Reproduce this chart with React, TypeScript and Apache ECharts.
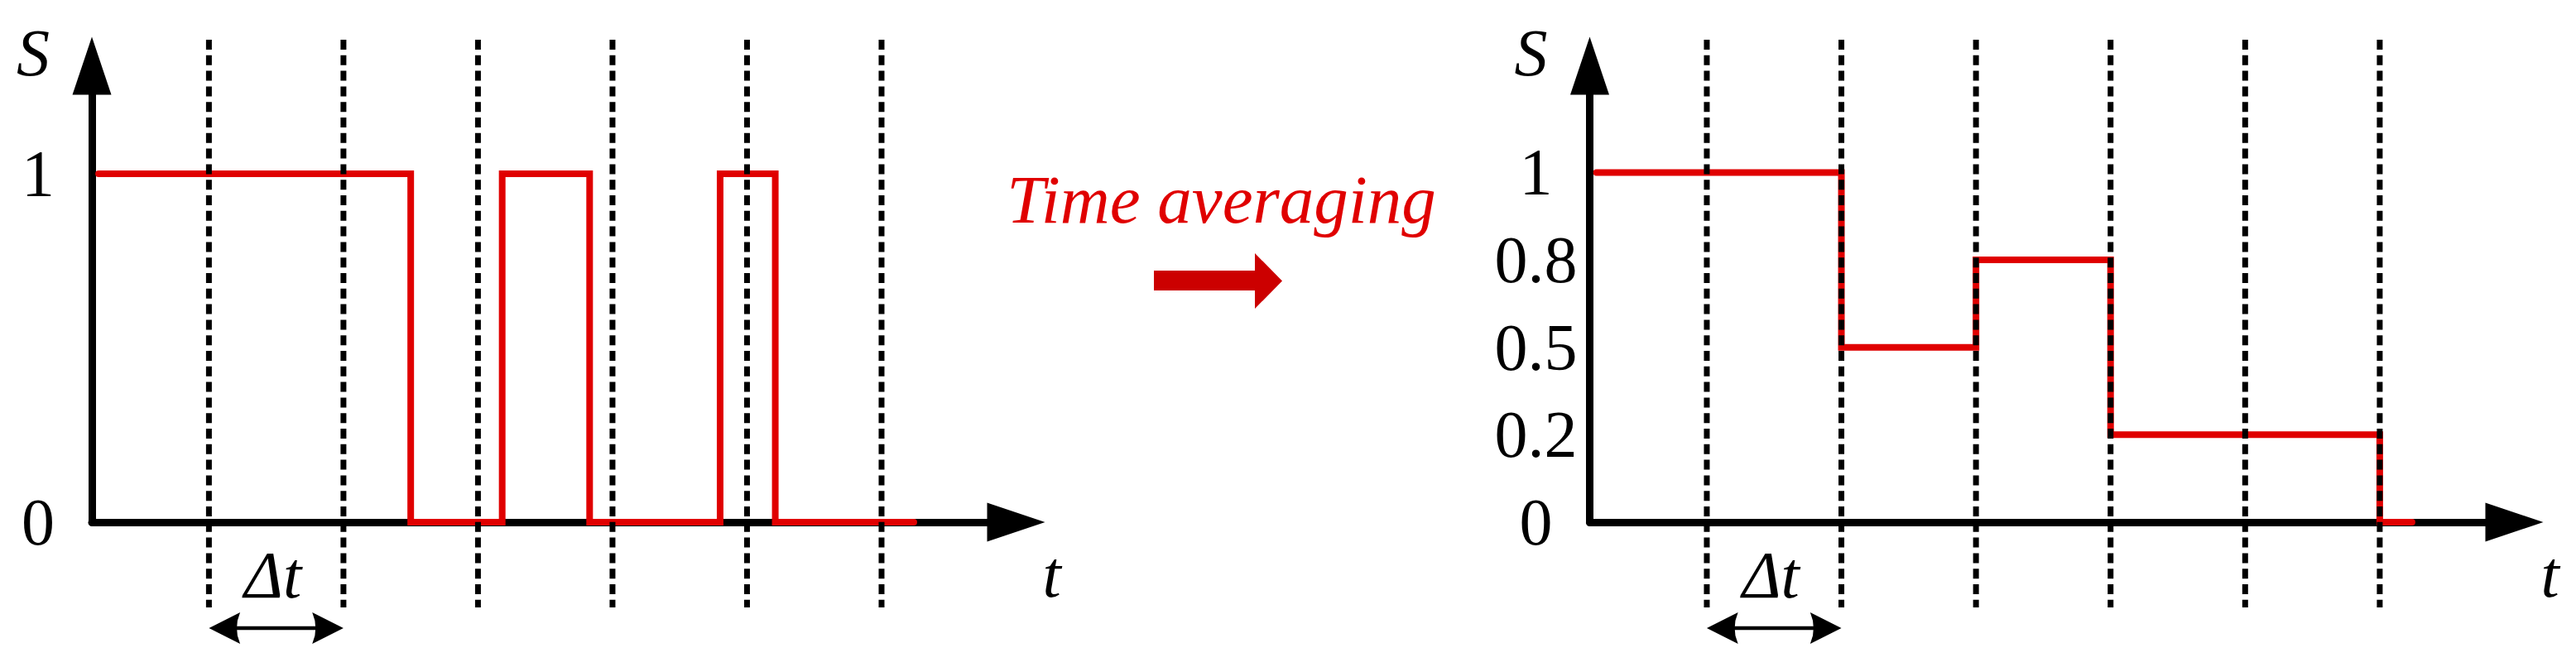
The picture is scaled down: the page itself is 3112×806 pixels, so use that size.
import React, { useEffect, useRef } from 'react';
import * as echarts from 'echarts';

// ---- data ----
const timeMin = 0.13;
const timeMax = 7;
const windowEdges = [1, 2, 3, 4, 5, 6];
const rawTimes = [0.18, 2.5, 3.18, 3.83, 4.8, 5.21, 6.24];
const rawStates = [1, 0, 1, 0, 1, 0, 0];
const avgTimes = [0.18, 2, 3, 4, 6, 6.24];
const avgValues = [1, 0.5, 0.8, 0.2, 0, 0];
const rawTickValues = [0, 1];
const avgTickLabels = ['0', '0.2', '0.5', '0.8', '1'];
const rawYMax = 1.31;
const avgYMax = 5.22;
const deltaWindow = [1, 2];
const transitionText = 'Time averaging';
const yName = 'S';
const xName = 't';
const deltaName = '\u0394t';

// ---- styles ----
const RED = '#E00000';
const ARROW_RED = '#CC0000';
const FONT = "'Liberation Serif', 'Times New Roman', serif";

const axisLine = {
  show: true,
  symbol: ['none', 'triangle'],
  symbolSize: [47, 70],
  lineStyle: { color: '#000', width: 9, cap: 'round' },
};

function xAxis(gridIndex: number) {
  return {
    gridIndex,
    type: 'value',
    min: timeMin,
    max: timeMax,
    axisLine,
    axisTick: { show: false },
    axisLabel: { show: false },
    splitLine: { show: false },
    name: xName,
    nameLocation: 'end',
    nameGap: 43,
    nameMoveOverlap: false,
    nameTextStyle: {
      fontFamily: FONT,
      fontStyle: 'italic',
      fontSize: 80,
      color: '#000',
      align: 'center',
      verticalAlign: 'top',
      padding: [23, 0, 0, 0],
    },
  };
}

function yAxis(gridIndex: number, max: number, formatter: (v: number) => string) {
  return {
    gridIndex,
    type: 'value',
    min: 0,
    max,
    interval: 1,
    axisLine,
    axisTick: { show: false },
    splitLine: { show: false },
    axisLabel: {
      show: true,
      formatter,
      fontFamily: FONT,
      fontSize: 80,
      color: '#000',
      align: 'center',
      margin: 65,
    },
    name: yName,
    nameLocation: 'end',
    nameGap: 16,
    nameMoveOverlap: false,
    nameTextStyle: {
      fontFamily: FONT,
      fontStyle: 'italic',
      fontSize: 80,
      color: '#000',
      align: 'right',
      verticalAlign: 'middle',
      padding: [0, 51, 0, 0],
    },
  };
}

const lineStyle = { color: RED, width: 8, cap: 'round', join: 'miter' };

export default function App() {
  const ref = useRef<HTMLDivElement>(null);
  useEffect(() => {
    const chart = echarts.init(ref.current!, null, { renderer: 'svg' });
    const option: any = {
      animation: false,
      backgroundColor: '#fff',
      grid: [
        { left: 111, top: 79.5, width: 1116.5, height: 551.5, outerBoundsMode: 'none', containLabel: false },
        { left: 1920.5, top: 79.5, width: 1117, height: 551.5, outerBoundsMode: 'none', containLabel: false },
      ],
      xAxis: [xAxis(0), xAxis(1)],
      yAxis: [
        yAxis(0, rawYMax, (v: number) => (rawTickValues.includes(v) ? String(v) : '')),
        yAxis(1, avgYMax, (v: number) => avgTickLabels[v] ?? ''),
      ],
      series: [
        {
          type: 'line',
          xAxisIndex: 0,
          yAxisIndex: 0,
          data: rawTimes.map((t, i) => [t, rawStates[i]]),
          step: 'end',
          symbol: 'none',
          showSymbol: false,
          clip: false,
          silent: true,
          z: 3,
          lineStyle,
        },
        {
          type: 'line',
          xAxisIndex: 1,
          yAxisIndex: 1,
          data: avgTimes.map((t, i) => [t, avgTickLabels.indexOf(String(avgValues[i]))]),
          step: 'end',
          symbol: 'none',
          showSymbol: false,
          clip: false,
          silent: true,
          z: 3,
          lineStyle,
        },
      ],
    };
    chart.setOption(option);

    const graphics: any[] = [];
    const yMaxes = [rawYMax, avgYMax];
    [0, 1].forEach((g) => {
      const px = (t: number, v: number) => chart.convertToPixel({ gridIndex: g } as any, [t, v]) as number[];
      const y0 = px(timeMin, 0)[1];
      const yTop = px(timeMin, yMaxes[g])[1];
      windowEdges.forEach((t) => {
        const x = px(t, 0)[0];
        graphics.push({
          type: 'line',
          z: 20,
          silent: true,
          shape: { x1: x, y1: yTop - 31.5, x2: x, y2: y0 + 103 },
          style: { stroke: '#000', lineWidth: 7, lineDash: [12, 6.8], lineCap: 'butt' },
        });
      });
      const xa = px(deltaWindow[0], 0)[0];
      const xb = px(deltaWindow[1], 0)[0];
      const ya = y0 + 128;
      graphics.push({
        type: 'line',
        z: 20,
        silent: true,
        shape: { x1: xa + 30, y1: ya, x2: xb - 30, y2: ya },
        style: { stroke: '#000', lineWidth: 4.5 },
      });
      const head = (tip: number, dir: number) => ({
        type: 'polygon',
        z: 20,
        silent: true,
        shape: {
          points: [
            [tip, ya],
            [tip + dir * 37.7, ya - 19],
            [tip + dir * 34.5, ya - 9],
            [tip + dir * 33.7, ya],
            [tip + dir * 34.5, ya + 9],
            [tip + dir * 37.7, ya + 19],
          ],
        },
        style: { fill: '#000' },
      });
      graphics.push(head(xa, 1));
      graphics.push(head(xb, -1));
      graphics.push({
        type: 'text',
        z: 20,
        silent: true,
        style: {
          text: deltaName,
          x: (xa + xb) / 2 - 4,
          y: y0 + 64,
          fill: '#000',
          fontFamily: FONT,
          fontStyle: 'italic',
          fontSize: 80,
          align: 'center',
          verticalAlign: 'middle',
          textAlign: 'center',
          textVerticalAlign: 'middle',
        },
      });
    });

    graphics.push({
      type: 'text',
      z: 20,
      silent: true,
      style: {
        text: transitionText,
        x: 1475.5,
        y: 241,
        fill: RED,
        fontFamily: FONT,
        fontStyle: 'italic',
        fontSize: 83,
        align: 'center',
        verticalAlign: 'middle',
        textAlign: 'center',
        textVerticalAlign: 'middle',
      },
    });
    graphics.push({
      type: 'polygon',
      z: 20,
      silent: true,
      shape: {
        points: [
          [1394, 327],
          [1516, 327],
          [1516, 306],
          [1549, 339.5],
          [1516, 373],
          [1516, 351],
          [1394, 351],
        ],
      },
      style: { fill: ARROW_RED },
    });

    chart.setOption({ graphic: graphics });
    return () => chart.dispose();
  }, []);

  return (
    <div
      ref={ref}
      style={{ position: 'absolute', left: 0, top: 0, width: 3112, height: 806, background: '#fff' }}
    />
  );
}
